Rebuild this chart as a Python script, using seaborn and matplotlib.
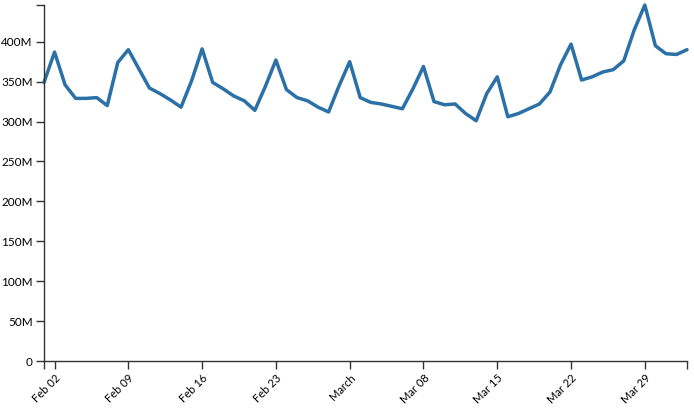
import matplotlib
matplotlib.use("Agg")
import matplotlib.pyplot as plt
import matplotlib.dates as mdates
import numpy as np
import pandas as pd
import seaborn as sns

# daily values, Feb 01 .. Apr 02 2020 (millions)
dates = pd.date_range("2020-02-01", "2020-04-02", freq="D")
values = [349, 387, 346, 329, 329, 330, 320, 374, 390, 366,
          342, 335, 327, 318, 351, 391, 349, 341, 332, 326,
          314, 344, 377, 340, 330, 326, 318, 312, 345, 375,
          330, 324, 322, 319, 316, 341, 369, 325, 321, 322,
          310, 301, 335, 356, 306, 310, 316, 322, 337, 371,
          397, 352, 356, 362, 365, 376, 415, 446, 395, 385,
          384, 390]
tick_dates = ["2020-02-02", "2020-02-09", "2020-02-16", "2020-02-23", "2020-03-01",
              "2020-03-08", "2020-03-15", "2020-03-22", "2020-03-29"]
tick_labels = ["Feb 02", "Feb 09", "Feb 16", "Feb 23", "March",
               "Mar 08", "Mar 15", "Mar 22", "Mar 29"]
y_ticks = [0, 50, 100, 150, 200, 250, 300, 350, 400]

df = pd.DataFrame({"date": dates, "value": np.array(values) * 1e6})

sns.set_style("white")
plt.rcParams["font.family"] = ["Lato", "DejaVu Sans"]

fig = plt.figure(figsize=(6.94, 4.08), dpi=100)
ax = fig.add_axes([44 / 694, 1 - 361 / 408, (687 - 44) / 694, (361 - 5) / 408])

sns.lineplot(data=df, x="date", y="value", ax=ax, color="#2b70a7", linewidth=2.5)
for ln in ax.lines:
    ln.set_clip_on(False)

ax.set_xlim(dates[0], dates[-1])
ax.set_ylim(0, max(values) * 1e6)

ax.set_xticks(pd.to_datetime(tick_dates))
ax.set_xticklabels(tick_labels, rotation=45, ha="right", rotation_mode="anchor",
                   fontsize=8)
ax.set_yticks([v * 1e6 for v in y_ticks])
ax.set_yticklabels([("%dM" % v) if v else "0" for v in y_ticks], fontsize=8.5)

# outer (domain end) ticks like d3
ax.set_xticks([mdates.date2num(dates[0]), mdates.date2num(dates[-1])], minor=True)
ax.set_yticks([max(values) * 1e6], minor=True)

for side in ["top", "right"]:
    ax.spines[side].set_visible(False)
for side in ["left", "bottom"]:
    ax.spines[side].set_color("#333333")
    ax.spines[side].set_linewidth(1)
ax.tick_params(which="both", length=6, width=1, color="#333333",
               labelcolor="black", pad=2)
ax.tick_params(axis="both", which="both", bottom=True, left=True)
ax.set_xlabel("")
ax.set_ylabel("")
ax.grid(False)

fig.savefig("out.png", dpi=100)
